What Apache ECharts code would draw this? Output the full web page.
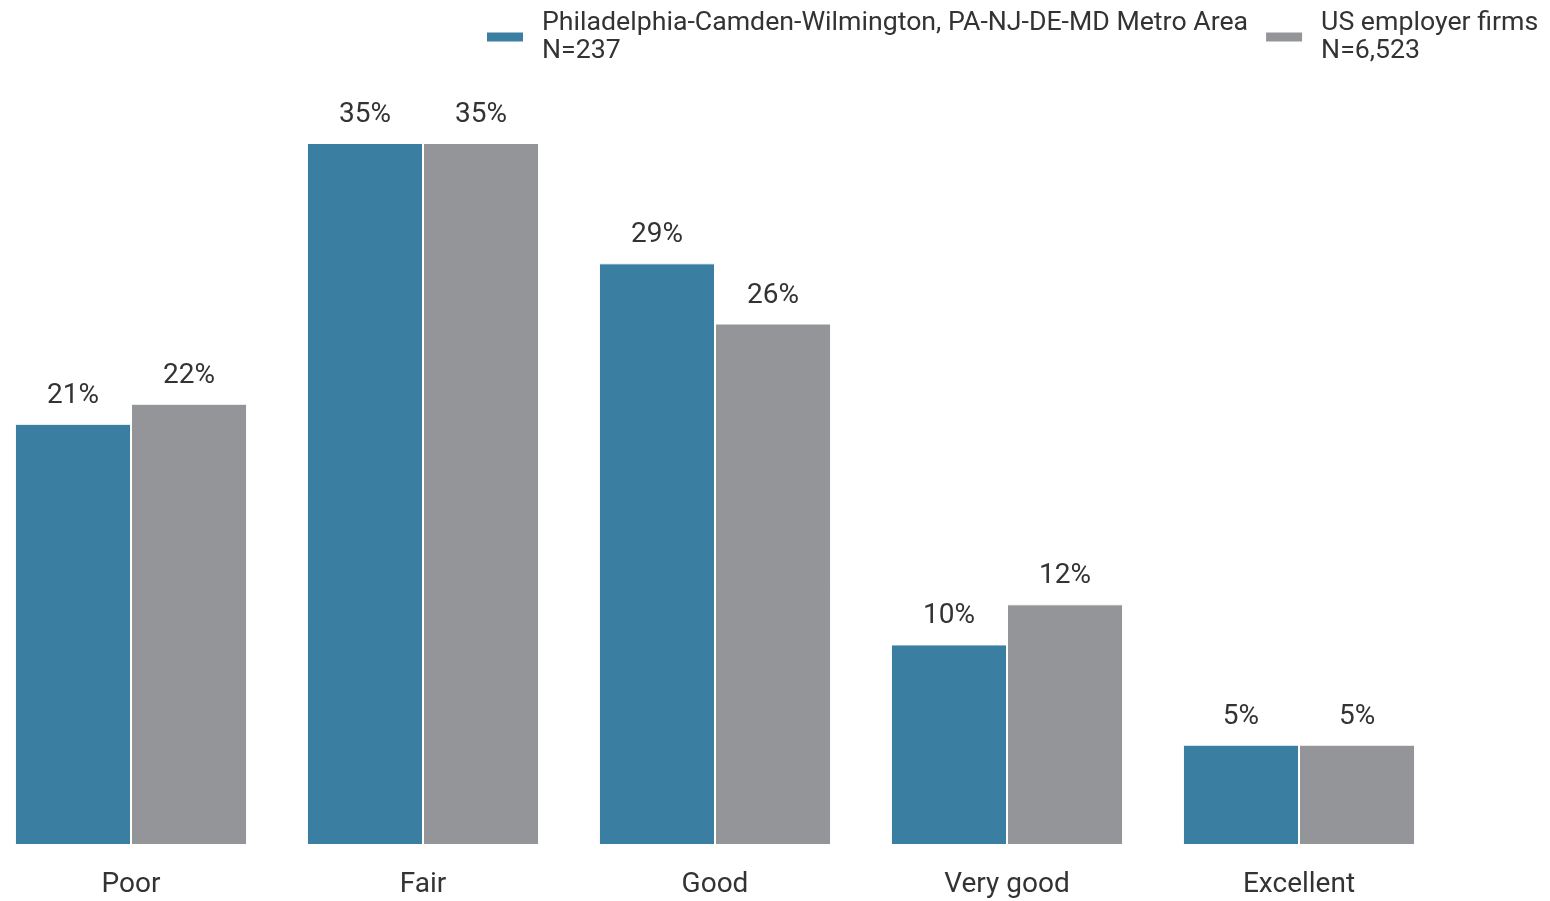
<!DOCTYPE html>
<html>
<head>
<meta charset="utf-8">
<script src="https://cdn.jsdelivr.net/npm/echarts@6/dist/echarts.min.js"></script>
<style>
html,body{margin:0;padding:0;background:#fff;overflow:hidden;}
#chart{position:absolute;left:-15px;top:0;width:1565px;height:901px;}
</style>
</head>
<body>
<div id="chart"></div>
<script>
const categories = ['Poor', 'Fair', 'Good', 'Very good', 'Excellent'];
const seriesNames = ['Philadelphia-Camden-Wilmington, PA-NJ-DE-MD Metro Area\nN=237', 'US employer firms\nN=6,523'];
const phillyValues = [21, 35, 29, 10, 5];
const usValues = [22, 35, 26, 12, 5];

const chart = echarts.init(document.getElementById('chart'));
const labelStyle = {
  show: true,
  position: 'top',
  distance: 14,
  formatter: p => p.value + '%',
  fontFamily: 'Roboto',
  fontSize: 28,
  color: '#333'
};
chart.setOption({
  animation: false,
  textStyle: { fontFamily: 'Roboto' },
  legend: {
    top: 4,
    left: 495,
    width: 1200,
    itemWidth: 38,
    itemHeight: 11,
    itemGap: 16,
    icon: 'rect',
    textStyle: { fontFamily: 'Roboto', fontSize: 26.7, color: '#333', lineHeight: 28, padding: [0, 0, 0, 13] }
  },
  grid: { left: 0, right: 105, top: 143, bottom: 56, containLabel: false },
  xAxis: {
    type: 'category',
    data: categories,
    axisLine: { show: false },
    axisTick: { show: false },
    axisLabel: { margin: 26, fontFamily: 'Roboto', fontSize: 28, color: '#333' }
  },
  yAxis: {
    type: 'value',
    min: 0,
    max: 35,
    show: false,
    splitLine: { show: false }
  },
  series: [
    {
      name: seriesNames[0],
      type: 'bar',
      data: phillyValues,
      barGap: '0%',
      barCategoryGap: '20.5%',
      itemStyle: { color: '#3a7fa1', borderColor: '#fff', borderWidth: 1 },
      label: labelStyle
    },
    {
      name: seriesNames[1],
      type: 'bar',
      data: usValues,
      itemStyle: { color: '#949598', borderColor: '#fff', borderWidth: 1 },
      label: labelStyle
    }
  ]
});
</script>
</body>
</html>
